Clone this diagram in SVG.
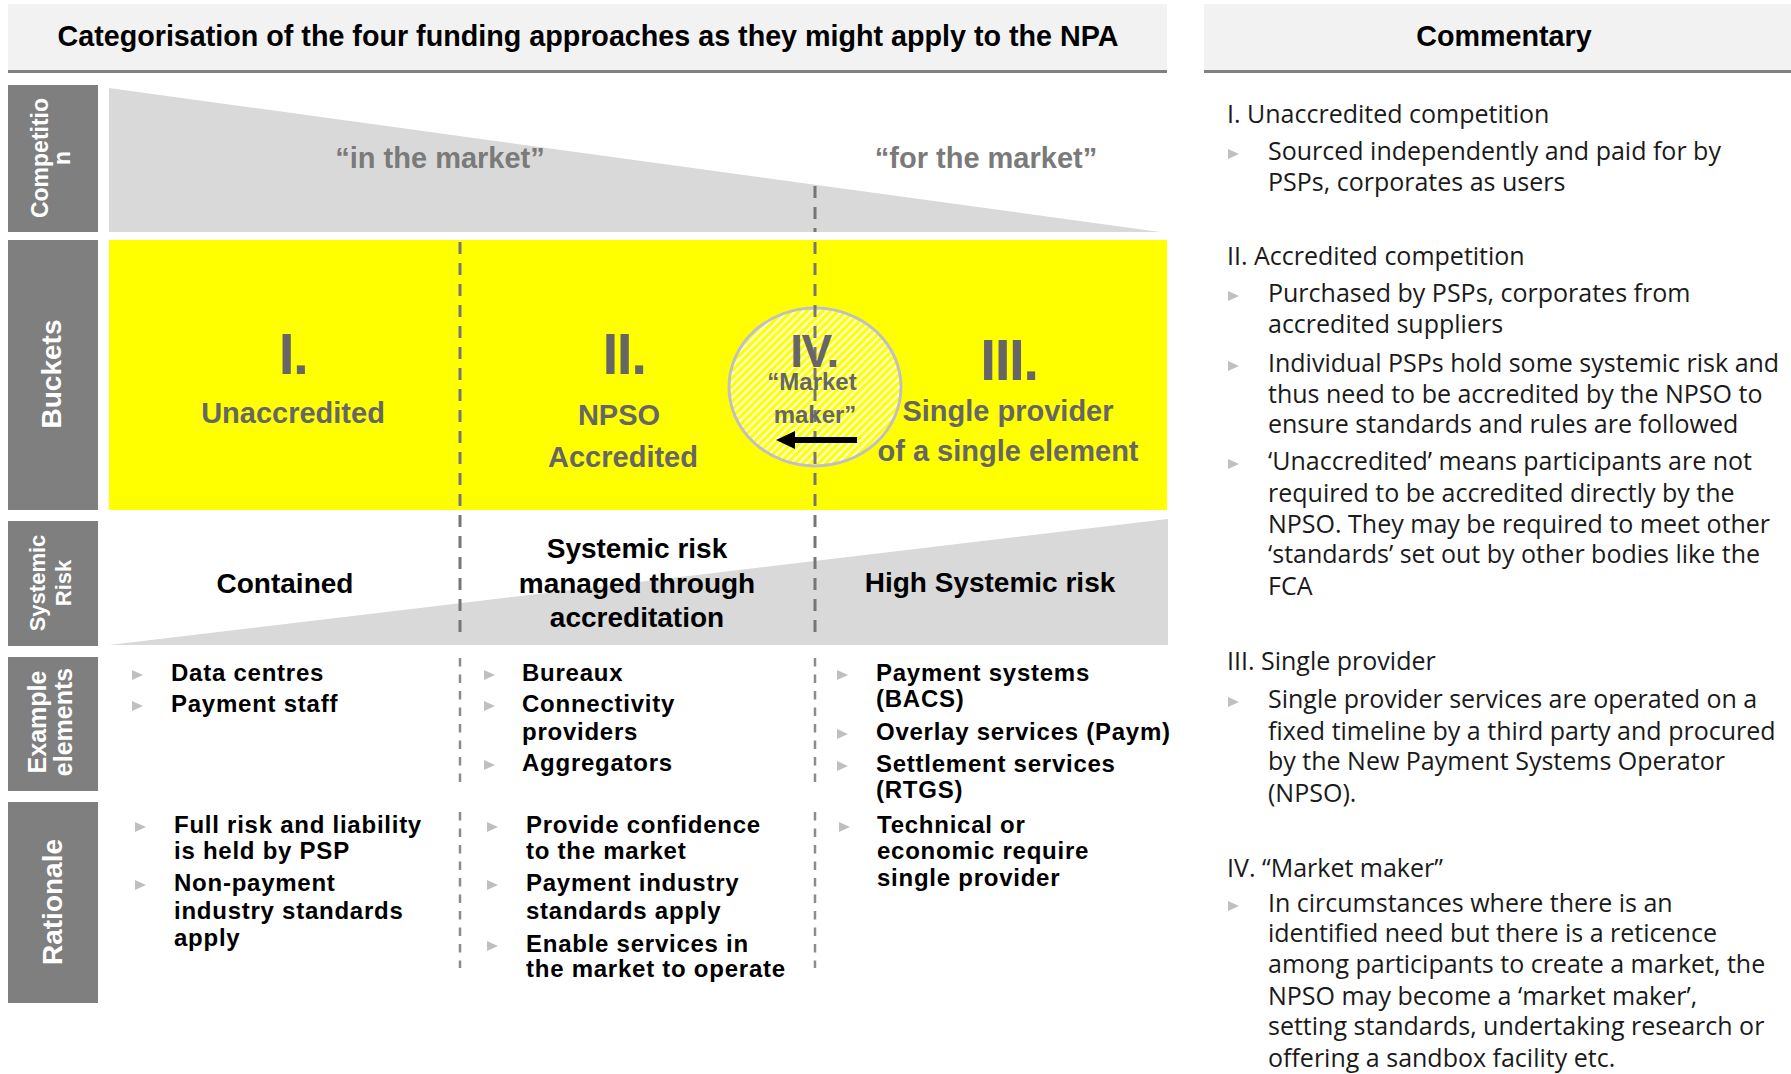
<svg xmlns="http://www.w3.org/2000/svg" width="1791" height="1074" viewBox="0 0 1791 1074">
<defs>
<style>
.hdr{fill:#f2f2f2}
.hline{fill:#808080}
.lbl{fill:#7f7f7f}
.lt{font-family:"Liberation Sans",Arial,sans-serif;font-weight:bold;fill:#fff;text-anchor:middle}
.b{font-family:"Liberation Sans",Arial,sans-serif;font-weight:bold}
.ttl{fill:#000;font-size:28.7px;text-anchor:middle}
.num{fill:#666;font-size:57px;letter-spacing:-1.5px;text-anchor:middle}
.bk{fill:#666;font-size:29px;text-anchor:middle}
.mk{fill:#7a7a7a;font-size:29px;text-anchor:middle}
.sr{fill:#000;font-size:28px;text-anchor:middle}
.it{fill:#000;font-size:24px;letter-spacing:0.75px}
.cm{font-family:"Open Sans","Noto Sans",sans-serif;font-size:25px;fill:#1a1a1a}
.bul{fill:#bfbfbf}
.d1{stroke:#767676;stroke-width:3;stroke-dasharray:12 9;fill:none}
.d2{stroke:#8c8c8c;stroke-width:2.5;stroke-dasharray:8.5 8;fill:none}
</style>
<pattern id="hatch" width="5.5" height="5.5" patternUnits="userSpaceOnUse" patternTransform="rotate(45)">
<rect width="5.5" height="5.5" fill="#ffff00"/>
<line x1="1.5" y1="0" x2="1.5" y2="5.5" stroke="#ffffff" stroke-width="2"/>
</pattern>
<path id="bt" d="M0 -5 L11 0 L0 5 Z"/>
</defs>
<rect width="1791" height="1074" fill="#ffffff"/>

<g id="header-left">
<rect class="hdr" x="8" y="4" width="1159" height="66"/>
<rect class="hline" x="8" y="70" width="1159" height="3"/>
<text class="b ttl" x="588" y="46">Categorisation of the four funding approaches as they might apply to the NPA</text>
</g>
<g id="header-right">
<rect class="hdr" x="1204" y="4" width="587" height="66"/>
<rect class="hline" x="1204" y="70" width="587" height="3"/>
<text class="b ttl" x="1504" y="46">Commentary</text>
</g>

<g id="label-competition">
<rect class="lbl" x="8" y="85" width="90" height="147"/>
<text class="lt" font-size="23" transform="translate(53,158) rotate(-90)"><tspan x="0" y="-5">Competitio</tspan><tspan x="0" y="17">n</tspan></text>
</g>
<g id="label-buckets">
<rect class="lbl" x="8" y="240" width="90" height="270"/>
<text class="lt" font-size="28" transform="translate(53,374) rotate(-90)" y="8">Buckets</text>
</g>
<g id="label-systemic">
<rect class="lbl" x="8" y="521" width="90" height="125"/>
<text class="lt" font-size="22" transform="translate(53,583) rotate(-90)"><tspan x="0" y="-8">Systemic</tspan><tspan x="0" y="18">Risk</tspan></text>
</g>
<g id="label-examples">
<rect class="lbl" x="8" y="657" width="90" height="134"/>
<text class="lt" font-size="25" transform="translate(53,722) rotate(-90)"><tspan x="0" y="-7">Example</tspan><tspan x="0" y="19">elements</tspan></text>
</g>
<g id="label-rationale">
<rect class="lbl" x="8" y="802" width="90" height="201"/>
<text class="lt" font-size="28" transform="translate(53,902) rotate(-90)" y="9">Rationale</text>
</g>

<g id="competition">
<polygon points="109,88 1160,232 109,232" fill="#d9d9d9"/>
<text class="b mk" x="440" y="168">“in the market”</text>
<text class="b mk" x="986" y="168">“for the market”</text>
</g>

<g id="buckets">
<rect x="109" y="240" width="1058" height="270" fill="#ffff00"/>
<g id="bucket-I">
<text class="b num" x="293" y="374">I.</text>
<text class="b bk" x="293" y="423">Unaccredited</text>
</g>
<g id="bucket-II">
<text class="b num" x="624" y="374">II.</text>
<text class="b bk" x="619" y="425">NPSO</text>
<text class="b bk" x="623" y="467">Accredited</text>
</g>
<g id="bucket-III">
<text class="b num" x="1009" y="380">III.</text>
<text class="b bk" x="1008" y="421">Single provider</text>
<text class="b bk" x="1008" y="461">of a single element</text>
</g>
<g id="bucket-IV">
<ellipse cx="815" cy="387" rx="86" ry="79" fill="url(#hatch)" stroke="#c0c0c0" stroke-width="3"/>
</g>
</g>

<g id="systemic">
<polygon points="109,645 1168,519 1168,645" fill="#d9d9d9"/>
</g>

<g id="dividers">
<line class="d1" x1="815" y1="186" x2="815" y2="232"/>
<line class="d1" x1="460" y1="242" x2="460" y2="640"/>
<line class="d1" x1="815" y1="242" x2="815" y2="640"/>
<line class="d2" x1="460" y1="658" x2="460" y2="788"/>
<line class="d2" x1="815" y1="658" x2="815" y2="788"/>
<line class="d2" x1="460" y1="812" x2="460" y2="968"/>
<line class="d2" x1="815" y1="812" x2="815" y2="968"/>
</g>

<g id="systemic-text">
<text class="b sr" x="285" y="593">Contained</text>
<text class="b sr" x="637"><tspan x="637" y="558">Systemic risk</tspan><tspan x="637" y="593">managed through</tspan><tspan x="637" y="627">accreditation</tspan></text>
<text class="b sr" x="990" y="592">High Systemic risk</text>
</g>

<g id="bucket-IV-text">
<text class="b" fill="#666" font-size="46" letter-spacing="-1.5" text-anchor="middle" x="814" y="367">IV.</text>
<text class="b" fill="#666" font-size="24" text-anchor="middle"><tspan x="812" y="390">“Market</tspan><tspan x="815" y="423">maker”</tspan></text>
</g>

<g id="connectors">
<line x1="857" y1="440" x2="792" y2="440" stroke="#000" stroke-width="6"/>
<polygon points="776,440 795,431 795,449" fill="#000"/>
</g>

<g id="examples">
<g class="bul">
<use href="#bt" x="132" y="675"/><use href="#bt" x="132" y="706"/>
<use href="#bt" x="484" y="675"/><use href="#bt" x="484" y="706"/><use href="#bt" x="484" y="765"/>
<use href="#bt" x="837" y="675"/><use href="#bt" x="837" y="734"/><use href="#bt" x="837" y="766"/>
</g>
<text class="b it"><tspan x="171" y="681">Data centres</tspan><tspan x="171" y="712">Payment staff</tspan></text>
<text class="b it"><tspan x="522" y="681">Bureaux</tspan><tspan x="522" y="712">Connectivity</tspan><tspan x="522" y="740">providers</tspan><tspan x="522" y="771">Aggregators</tspan></text>
<text class="b it"><tspan x="876" y="681">Payment systems</tspan><tspan x="876" y="707">(BACS)</tspan><tspan x="876" y="740">Overlay services (Paym)</tspan><tspan x="876" y="772">Settlement services</tspan><tspan x="876" y="798">(RTGS)</tspan></text>
</g>

<g id="rationale">
<g class="bul">
<use href="#bt" x="135" y="827"/><use href="#bt" x="135" y="885"/>
<use href="#bt" x="487" y="827"/><use href="#bt" x="487" y="885"/><use href="#bt" x="487" y="946"/>
<use href="#bt" x="839" y="827"/>
</g>
<text class="b it"><tspan x="174" y="833">Full risk and liability</tspan><tspan x="174" y="859">is held by PSP</tspan><tspan x="174" y="891">Non-payment</tspan><tspan x="174" y="919">industry standards</tspan><tspan x="174" y="946">apply</tspan></text>
<text class="b it"><tspan x="526" y="833">Provide confidence</tspan><tspan x="526" y="859">to the market</tspan><tspan x="526" y="891">Payment industry</tspan><tspan x="526" y="919">standards apply</tspan><tspan x="526" y="952">Enable services in</tspan><tspan x="526" y="977">the market to operate</tspan></text>
<text class="b it"><tspan x="877" y="833">Technical or</tspan><tspan x="877" y="859">economic require</tspan><tspan x="877" y="886">single provider</tspan></text>
</g>

<g id="commentary">
<g class="bul">
<use href="#bt" x="1228" y="154"/><use href="#bt" x="1228" y="296"/><use href="#bt" x="1228" y="366"/><use href="#bt" x="1228" y="464"/><use href="#bt" x="1228" y="702"/><use href="#bt" x="1228" y="906"/>
</g>
<text class="cm"><tspan x="1227" y="123">I. Unaccredited competition</tspan><tspan x="1227" y="265">II. Accredited competition</tspan><tspan x="1227" y="670">III. Single provider</tspan><tspan x="1227" y="877">IV. “Market maker”</tspan></text>
<text class="cm"><tspan x="1268" y="160">Sourced independently and paid for by</tspan><tspan x="1268" y="191">PSPs, corporates as users</tspan><tspan x="1268" y="302">Purchased by PSPs, corporates from</tspan><tspan x="1268" y="333">accredited suppliers</tspan><tspan x="1268" y="372">Individual PSPs hold some systemic risk and</tspan><tspan x="1268" y="403">thus need to be accredited by the NPSO to</tspan><tspan x="1268" y="433">ensure standards and rules are followed</tspan><tspan x="1268" y="470">‘Unaccredited’ means participants are not</tspan><tspan x="1268" y="502">required to be accredited directly by the</tspan><tspan x="1268" y="533">NPSO. They may be required to meet other</tspan><tspan x="1268" y="563">‘standards’ set out by other bodies like the</tspan><tspan x="1268" y="595">FCA</tspan><tspan x="1268" y="708">Single provider services are operated on a</tspan><tspan x="1268" y="740">fixed timeline by a third party and procured</tspan><tspan x="1268" y="770">by the New Payment Systems Operator</tspan><tspan x="1268" y="802">(NPSO).</tspan><tspan x="1268" y="912">In circumstances where there is an</tspan><tspan x="1268" y="942">identified need but there is a reticence</tspan><tspan x="1268" y="973">among participants to create a market, the</tspan><tspan x="1268" y="1005">NPSO may become a ‘market maker’,</tspan><tspan x="1268" y="1035">setting standards, undertaking research or</tspan><tspan x="1268" y="1067">offering a sandbox facility etc.</tspan></text>
</g>
</svg>
